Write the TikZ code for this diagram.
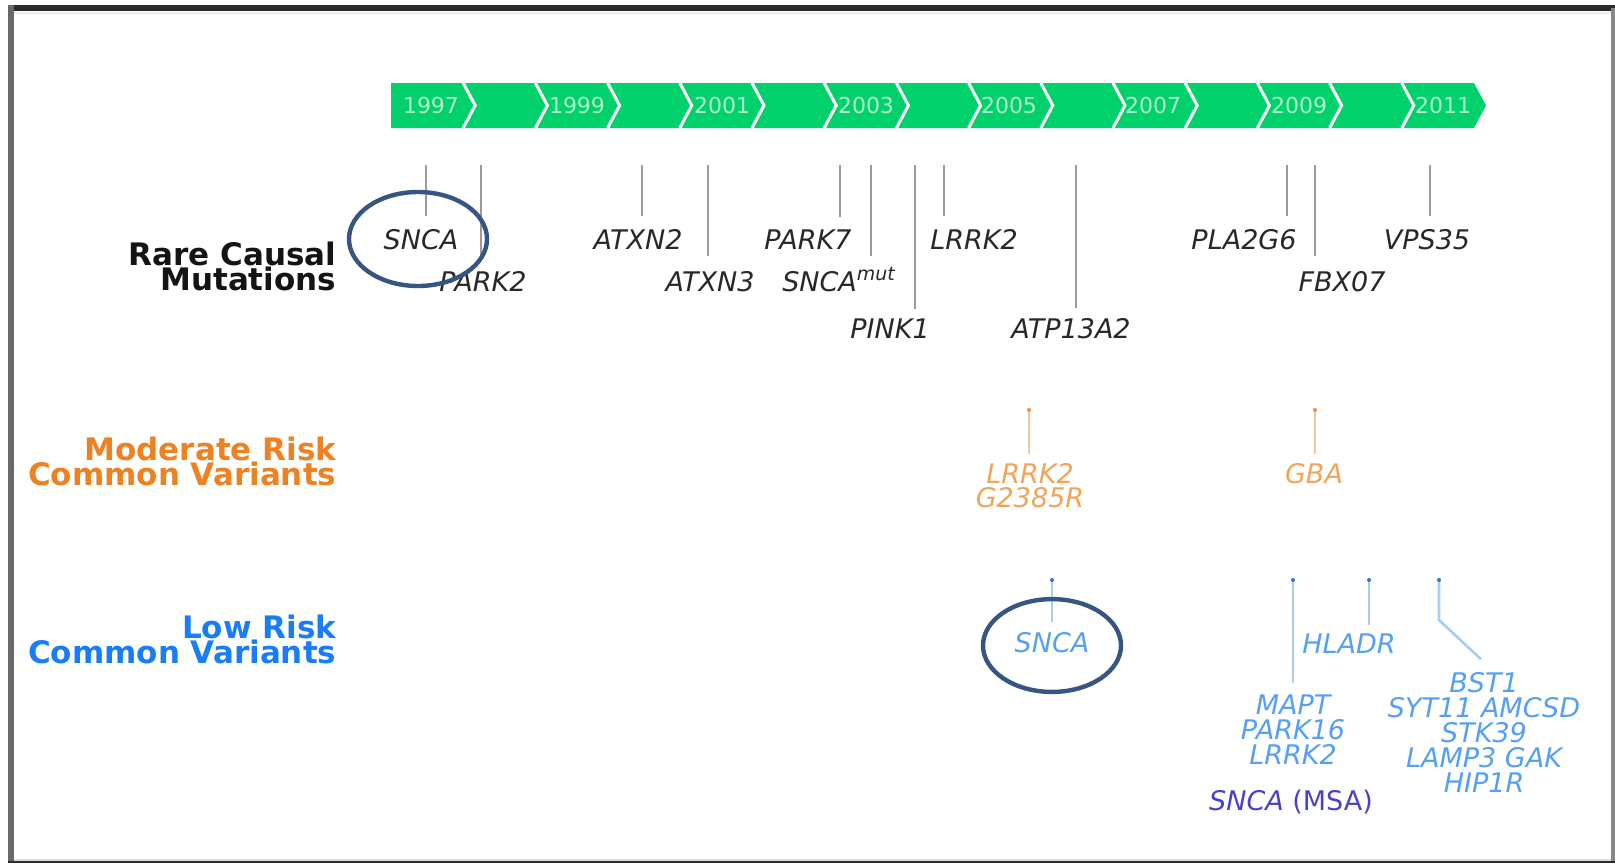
\documentclass[tikz,border=0pt]{standalone}
\usepackage{fontspec}
\setmainfont{DejaVu Sans}
\usetikzlibrary{calc}

\definecolor{barGreen}{RGB}{0,209,106}
\definecolor{yearText}{RGB}{175,240,205}
\definecolor{headText}{RGB}{20,20,20}
\definecolor{rareText}{RGB}{40,40,40}
\definecolor{rareTick}{RGB}{155,155,155}
\definecolor{modHead}{RGB}{238,130,35}
\definecolor{modText}{RGB}{242,165,90}
\definecolor{modTick}{RGB}{246,200,160}
\definecolor{modDot}{RGB}{240,140,60}
\definecolor{lowHead}{RGB}{25,125,250}
\definecolor{lowText}{RGB}{85,160,245}
\definecolor{lowTick}{RGB}{165,205,245}
\definecolor{lowDot}{RGB}{40,120,230}
\definecolor{msaText}{RGB}{75,65,200}
\definecolor{ringBlue}{RGB}{55,85,130}
\definecolor{frameDark}{RGB}{42,42,42}
\definecolor{frameGray}{RGB}{105,105,105}

\tikzset{every picture/.style={line width=0.75pt}}

\begin{document}
\begin{tikzpicture}[x=0.5pt,y=0.5pt,yscale=-1,xscale=1,
	yearlbl/.style={text=yearText, font=\fontsize{11}{11}\selectfont, inner sep=0pt},
	gene/.style={font=\fontsize{13.5}{12.5}\selectfont\itshape, inner sep=0pt, align=center, anchor=base},
	rarelbl/.style={gene, text=rareText},
	modlbl/.style={gene, text=modText, font=\fontsize{13.5}{12}\selectfont\itshape},
	lowlbl/.style={gene, text=lowText},
	headlbl/.style={font=\fontsize{15.5}{12.4}\selectfont\bfseries, inner sep=0pt, align=right, anchor=base east},
	sep/.style={draw=white, line width=1.5pt},
	raretick/.style={draw=rareTick, line width=1.2pt, shorten >=#1},
	modtick/.style={draw=modTick, line width=1.2pt, shorten >=#1},
	lowtick/.style={draw=lowTick, line width=1.3pt, shorten >=#1},
	ring/.style={draw=ringBlue, line width=2.2pt}]
	\useasboundingbox (0,0) rectangle (1615,863);
	\fill[white] (0,0) rectangle (1615,863);

	%Frame
	\draw[black!8, line width=1pt] (14,12.5) -- (1611,12.5) ;
	\draw[black!14, line width=1pt] (14,860) -- (1611,860) ;
	\draw[frameDark, line width=3pt] (8,8) -- (1615,8) ;
	\draw[frameGray, line width=3pt] (11,5) -- (11,863) ;
	\draw[frameGray!80, line width=2pt] (1613,8) -- (1613,863) ;
	\draw[frameDark, line width=1pt] (8,862) -- (1615,862) ;

	%Shape: Timeline bar
	\fill[barGreen] (391,83) -- (1474,83) -- (1486,105.5) -- (1474,128) -- (391,128) -- cycle ;
	%Straight Lines
	\draw[sep] (463.2,83) -- (475.2,105.5) -- (463.2,128) ;
	\draw[sep] (535.4,83) -- (547.4,105.5) -- (535.4,128) ;
	\draw[sep] (607.6,83) -- (619.6,105.5) -- (607.6,128) ;
	\draw[sep] (679.8,83) -- (691.8,105.5) -- (679.8,128) ;
	\draw[sep] (752.0,83) -- (764.0,105.5) -- (752.0,128) ;
	\draw[sep] (824.2,83) -- (836.2,105.5) -- (824.2,128) ;
	\draw[sep] (896.4,83) -- (908.4,105.5) -- (896.4,128) ;
	\draw[sep] (968.6,83) -- (980.6,105.5) -- (968.6,128) ;
	\draw[sep] (1040.8,83) -- (1052.8,105.5) -- (1040.8,128) ;
	\draw[sep] (1113.0,83) -- (1125.0,105.5) -- (1113.0,128) ;
	\draw[sep] (1185.2,83) -- (1197.2,105.5) -- (1185.2,128) ;
	\draw[sep] (1257.4,83) -- (1269.4,105.5) -- (1257.4,128) ;
	\draw[sep] (1329.6,83) -- (1341.6,105.5) -- (1329.6,128) ;
	\draw[sep] (1401.8,83) -- (1413.8,105.5) -- (1401.8,128) ;

	% Text Node
	\node[yearlbl] (y1997) at (431,105.5) {1997};
	\node[yearlbl] (y1999) at (577,105.5) {1999};
	\node[yearlbl] (y2001) at (722,105.5) {2001};
	\node[yearlbl] (y2003) at (866,105.5) {2003};
	\node[yearlbl] (y2005) at (1009,105.5) {2005};
	\node[yearlbl] (y2007) at (1153,105.5) {2007};
	\node[yearlbl] (y2009) at (1299,105.5) {2009};
	\node[yearlbl] (y2011) at (1443,105.5) {2011};

	% Text Node
	\node[headlbl, text=headText] (hRare) at (337,290) {Rare Causal\\Mutations};
	\node[headlbl, text=modHead] (hMod) at (337,485) {Moderate Risk\\Common Variants};
	\node[headlbl, text=lowHead] (hLow) at (337,663) {Low Risk\\Common Variants};

	% Text Node
	\node[rarelbl] (rSNCA) at (421,249) {SNCA};
	\node[rarelbl] (rPARK2) at (483,291) {PARK2};
	\node[rarelbl] (rATXN2) at (638,249) {ATXN2};
	\node[rarelbl] (rATXN3) at (710,291) {ATXN3};
	\node[rarelbl] (rPARK7) at (808,249) {PARK7};
	\node[rarelbl] (rSNCAmut) at (839,291) {SNCA\textsuperscript{mut}};
	\node[rarelbl] (rPINK1) at (890,338) {PINK1};
	\node[rarelbl] (rLRRK2) at (974,249) {LRRK2};
	\node[rarelbl] (rATP13A2) at (1071,338) {ATP13A2};
	\node[rarelbl] (rPLA2G6) at (1244,249) {PLA2G6};
	\node[rarelbl] (rFBX07) at (1342,291) {FBX07};
	\node[rarelbl] (rVPS35) at (1427,249) {VPS35};

	\coordinate (kSNCA) at (426,165);
	\coordinate (kPARK2) at (481,165);
	\coordinate (kATXN2) at (642,165);
	\coordinate (kATXN3) at (708,165);
	\coordinate (kPARK7) at (840,165);
	\coordinate (kSNCAmut) at (871,165);
	\coordinate (kPINK1) at (915,165);
	\coordinate (kLRRK2) at (944,165);
	\coordinate (kATP13A2) at (1076,165);
	\coordinate (kPLA2G6) at (1287,165);
	\coordinate (kFBX07) at (1315,165);
	\coordinate (kVPS35) at (1430,165);

	%Straight Lines
	\draw[raretick=6] (kSNCA) -- (kSNCA |- rSNCA.north) ;
	\draw[raretick=7.5] (kPARK2) -- (kPARK2 |- rPARK2.north) ;
	\draw[raretick=6] (kATXN2) -- (kATXN2 |- rATXN2.north) ;
	\draw[raretick=7] (kATXN3) -- (kATXN3 |- rATXN3.north) ;
	\draw[raretick=6] (kPARK7) -- (kPARK7 |- rPARK7.north) ;
	\draw[raretick=7] (kSNCAmut) -- (kSNCAmut |- rATXN3.north) ;
	\draw[raretick=4.5] (kPINK1) -- (kPINK1 |- rPINK1.north) ;
	\draw[raretick=6] (kLRRK2) -- (kLRRK2 |- rLRRK2.north) ;
	\draw[raretick=4.5] (kATP13A2) -- (kATP13A2 |- rATP13A2.north) ;
	\draw[raretick=6] (kPLA2G6) -- (kPLA2G6 |- rPLA2G6.north) ;
	\draw[raretick=7] (kFBX07) -- (kFBX07 |- rFBX07.north) ;
	\draw[raretick=6] (kVPS35) -- (kVPS35 |- rVPS35.north) ;

	% Text Node
	\node[modlbl] (mLRRK2) at (1030,507) {LRRK2\\G2385R};
	\node[modlbl] (mGBA) at (1314,483) {GBA};
	\coordinate (kmLRRK2) at (1029,410);
	\coordinate (kmGBA) at (1315,410);
	%Straight Lines
	\draw[modtick=4] (kmLRRK2) -- (kmLRRK2 |- mLRRK2.north) ;
	\draw[modtick=4] (kmGBA) -- (kmGBA |- mGBA.north) ;
	\fill[modDot] (kmLRRK2) circle (1pt) ;
	\fill[modDot] (kmGBA) circle (1pt) ;

	% Text Node
	\node[lowlbl] (lSNCA) at (1052,652) {SNCA};
	\node[lowlbl] (lHLADR) at (1349,653) {HLADR};
	\node[lowlbl] (lMAPT) at (1293,764) {MAPT\\PARK16\\LRRK2};
	\node[lowlbl] (lBST1) at (1484,792) {BST1\\SYT11 AMCSD\\STK39\\LAMP3 GAK\\HIP1R};
	\node[lowlbl, text=msaText] (lMSA) at (1291,810) {SNCA \textup{(MSA)}};
	\coordinate (klSNCA) at (1052,580);
	\coordinate (klMAPT) at (1293,580);
	\coordinate (klHLADR) at (1369,580);
	\coordinate (klBST1) at (1439,580);
	%Straight Lines
	\draw[lowtick=4.5] (klSNCA) -- (klSNCA |- lSNCA.north) ;
	\draw[lowtick=5.5] (klMAPT) -- (klMAPT |- lMAPT.north) ;
	\draw[lowtick=4] (klHLADR) -- (klHLADR |- lHLADR.north) ;
	\draw[lowtick=0] (klBST1) -- ++(0,40) -- ($(lBST1.north)+(-3,-12)$) ;
	\fill[lowDot] (klSNCA) circle (1pt) ;
	\fill[lowDot] (klMAPT) circle (1pt) ;
	\fill[lowDot] (klHLADR) circle (1pt) ;
	\fill[lowDot] (klBST1) circle (1pt) ;

	%Shape: Ellipse
	\draw[ring] (418,239) ellipse [x radius=34.5pt, y radius=23.5pt] ;
	%Shape: Ellipse
	\draw[ring] (1052,645.5) ellipse [x radius=34.5pt, y radius=23.2pt] ;
\end{tikzpicture}
\end{document}
